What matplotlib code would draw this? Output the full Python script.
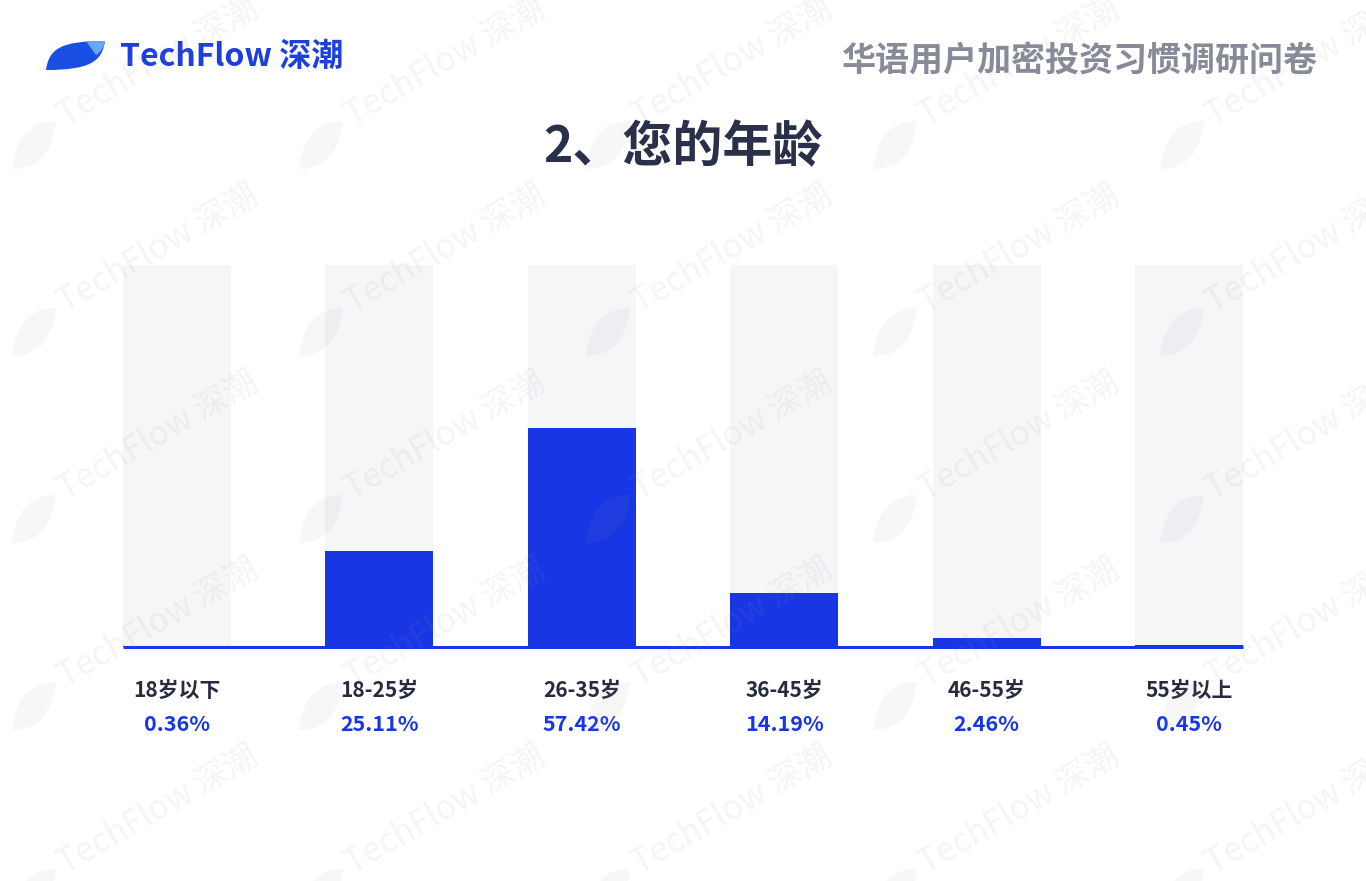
import matplotlib
matplotlib.use("Agg")
import matplotlib.pyplot as plt
from matplotlib.path import Path
from matplotlib.patches import PathPatch
import numpy as np

plt.rcParams['font.family'] = ['Noto Sans CJK SC', 'DejaVu Sans']

# data
categories = ["18岁以下", "18-25岁", "26-35岁", "36-45岁", "46-55岁", "55岁以上"]
values = [0.36, 25.11, 57.42, 14.19, 2.46, 0.45]
value_labels = ["0.36%", "25.11%", "57.42%", "14.19%", "2.46%", "0.45%"]
title = "2、您的年龄"
header = "华语用户加密投资习惯调研问卷"
brand = "TechFlow 深潮"

W, H = 1366, 881
BLUE = "#1836e4"
BG_BAR = "#f5f6f8"
DARK = "#272b3f"


def fx(px):
    return px / W


def fy(py):
    return 1 - py / H


def leaf(pts, color, alpha=1.0, zorder=5):
    # closed bezier shape given in pixel coords
    verts = [(fx(a), fy(b)) for a, b in pts]
    codes = [Path.MOVETO] + [Path.CURVE4] * (len(pts) - 1)
    p = PathPatch(Path(verts, codes), transform=fig.transFigure,
                  facecolor=color, edgecolor='none', alpha=alpha, zorder=zorder)
    fig.patches.append(p)


def wm_leaf(x0, y0, w, h):
    pts = [(x0, y0 + h),
           (x0 + 0.1 * w, y0 + 0.25 * h), (x0 + 0.5 * w, y0), (x0 + w, y0),
           (x0 + 0.9 * w, y0 + 0.75 * h), (x0 + 0.5 * w, y0 + h), (x0, y0 + h)]
    leaf(pts, "#9a9aa6", alpha=0.08, zorder=10)


fig = plt.figure(figsize=(W / 100, H / 100), dpi=100)
fig.patch.set_facecolor("white")

# axes: x from -0.5 to 5.5, y 0..100 mapped to pixels 647..265
ax = fig.add_axes([fx(75.8), fy(647), 1214.4 / W, 382 / H])
x = np.arange(len(categories))
bw = 0.534
ax.bar(x, [100] * len(x), width=bw, color=BG_BAR, zorder=1)
ax.bar(x, values, width=bw, color=BLUE, zorder=2)
ax.plot([x[0] - bw / 2, x[-1] + bw / 2], [0, 0], color=BLUE, lw=2.2,
        solid_capstyle='butt', zorder=3, clip_on=False)
ax.set_xlim(-0.5, len(x) - 0.5)
ax.set_ylim(0, 100)
ax.axis('off')

for i in range(len(x)):
    ax.text(x[i], -11.3, categories[i], ha='center', va='center',
            fontsize=15, fontweight='bold', color=DARK, clip_on=False)
    ax.text(x[i], -20.2, value_labels[i], ha='center', va='center',
            fontsize=15.5, fontweight='bold', color=BLUE, clip_on=False)

# title and header
fig.text(0.5, fy(148), title, ha='center', va='center', fontsize=36,
         fontweight='bold', color="#2a2f4a")
fig.text(fx(1318), fy(61), header, ha='right', va='center', fontsize=24.5,
         fontweight='bold', color="#878a97")

# logo
leaf([(46, 70), (49, 49), (60, 41), (105, 41),
      (102, 61), (91, 70), (46, 70)], "#1a4fe6")
leaf([(86, 41), (92, 41), (98, 41), (105, 41),
      (104, 47), (101, 52), (96, 55)], "#6aa6f6", zorder=6)
fig.text(fx(120), fy(57), brand, ha='left', va='center', fontsize=23,
         fontweight='bold', color="#1d3fe0")

# watermark grid
for cx in [65, 352, 639, 926, 1213]:
    for cy in [126, 313, 500, 687, 874]:
        fig.text(fx(cx), fy(cy), brand, ha='left', va='baseline',
                 rotation=30, rotation_mode='anchor', fontsize=24,
                 color="#9a9aa6", alpha=0.1, zorder=10)
        wm_leaf(cx - 53, cy - 5, 44, 48)

fig.savefig("out.png", dpi=100)
